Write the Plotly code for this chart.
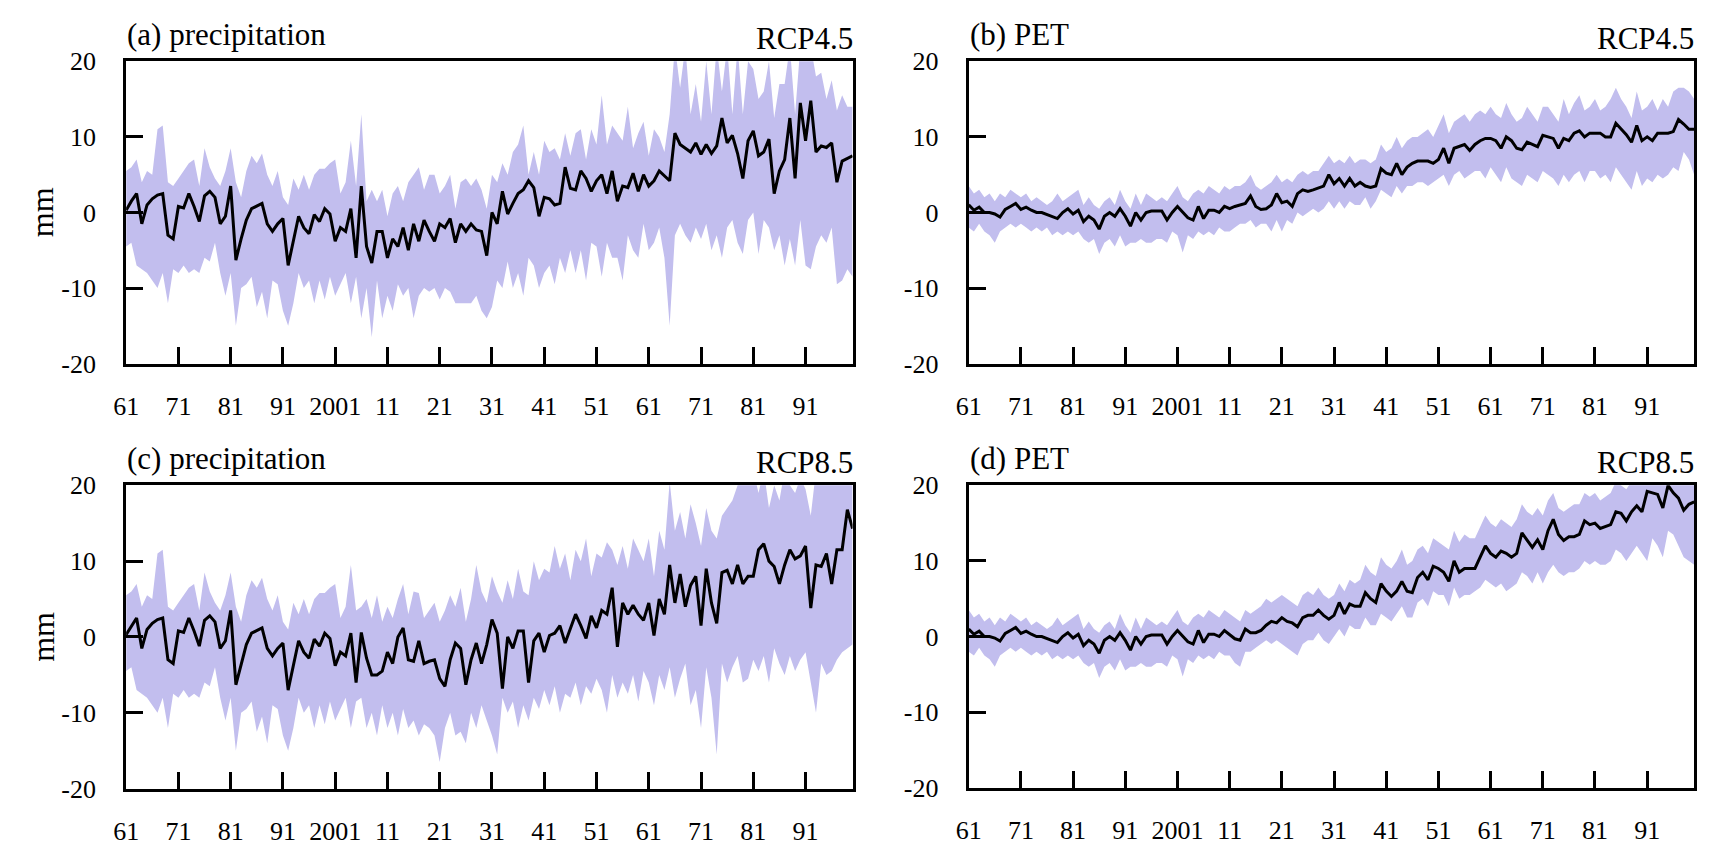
import plotly.graph_objects as go

# ---------------- data (anomalies, mm) ----------------
years = list(range(1961, 2101))
tick_years = [1961, 1971, 1981, 1991, 2001, 2011, 2021, 2031, 2041, 2051,
              2061, 2071, 2081, 2091]
tick_labels = ["61", "71", "81", "91", "2001", "11", "21", "31", "41", "51",
               "61", "71", "81", "91"]

# Precipitation, historical 1961-2005 (shared by both scenarios)
pr_hist_mean = [
    0.3, 1.5, 2.5, -1.5, 1.0, 1.8, 2.3, 2.5, -3.0, -3.5,
    0.8, 0.6, 2.5, 0.8, -1.2, 2.2, 2.8, 2.0, -1.5, -0.5,
    3.5, -6.3, -3.5, -1.0, 0.5, 0.8, 1.2, -1.5, -2.5, -1.5,
    -0.8, -7.0, -3.5, -0.5, -2.0, -2.8, -0.3, -1.2, 0.5, -0.2,
    -3.8, -2.0, -2.5, 0.5, -6.0,
]
pr_hist_hi = [
    5.5, 6.0, 7.0, 4.0, 5.5, 5.0, 11.0, 11.5, 4.0, 3.5,
    4.5, 5.5, 6.5, 7.0, 3.5, 8.5, 6.0, 4.5, 3.5, 5.5,
    8.5, 4.0, 2.0, 5.5, 7.5, 6.5, 7.8, 5.0, 3.5, 5.5,
    2.0, 1.0, 4.5, 3.0, 5.0, 3.0, 5.0, 5.8, 5.8, 6.5,
    7.0, 2.5, 4.0, 9.5, 3.5,
]
pr_hist_lo = [
    -4.5, -4.0, -7.0, -7.5, -8.0, -9.0, -10.0, -8.0, -12.0, -7.5,
    -8.0, -7.0, -8.0, -7.5, -8.0, -6.0, -6.5, -4.0, -8.0, -11.0,
    -8.0, -15.0, -10.0, -9.5, -8.5, -12.5, -10.5, -14.0, -9.0, -9.5,
    -13.0, -15.0, -12.0, -8.0, -10.0, -9.0, -12.0, -9.0, -11.5, -8.5,
    -11.0, -9.5, -8.0, -12.0, -8.5,
]

# Precipitation, RCP4.5 2006-2100
pr45_mean = [
    3.5, -4.5, -6.7, -2.5, -2.5,
    -6.0, -3.5, -4.5, -2.0, -5.0, -1.5, -3.8, -1.0, -2.5, -3.8,
    -1.5, -2.0, -0.8, -4.0, -1.5, -2.5, -1.5, -2.3, -2.5, -5.7,
    0.0, -1.5, 2.8, -0.2, 1.2, 2.5, 3.0, 4.2, 3.3, -0.5,
    2.0, 1.8, 1.0, 1.2, 6.0, 3.2, 3.0, 5.5, 4.5, 2.8,
    4.2, 5.0, 2.5, 5.5, 1.5, 3.5, 3.3, 5.2, 2.8, 5.0,
    3.5, 4.2, 5.5, 4.8, 4.2, 10.5, 9.0, 8.5, 8.0, 9.2,
    7.7, 9.0, 7.8, 8.8, 12.5, 9.2, 10.2, 7.8, 4.5, 9.5,
    10.8, 7.5, 8.0, 9.7, 2.5, 5.5, 7.0, 12.5, 4.5, 14.5,
    9.5, 14.8, 8.0, 8.8, 8.6, 9.2, 4.0, 6.8, 7.2, 7.5,
]
pr45_hi = [
    13.0, 1.5, 3.0, 1.5, 3.0,
    -0.5, 2.5, 3.5, 1.5, 4.0, 5.0, 6.0, 3.0, 5.0, 5.0,
    2.5, 3.5, 5.0, 0.5, 4.0, 4.5, 3.5, 4.5, 3.0, 0.5,
    5.0, 4.0, 6.5, 5.0, 8.0, 9.0, 11.5, 5.0, 8.0, 5.0,
    9.5, 8.0, 8.5, 7.0, 10.5, 7.5, 10.5, 11.0, 7.0, 11.0,
    9.0, 15.5, 9.0, 11.5, 10.5, 9.5, 14.0, 8.5, 10.5, 12.0,
    7.5, 11.0, 10.0, 8.0, 13.0, 22.0, 16.5, 22.0, 13.0, 17.0,
    12.0, 20.0, 13.0, 22.0, 16.0, 22.0, 13.0, 22.0, 13.0, 20.0,
    19.0, 15.0, 16.0, 20.0, 12.5, 17.0, 17.0, 22.0, 13.0, 22.0,
    22.0, 22.0, 18.0, 18.5, 15.0, 17.5, 13.5, 15.5, 14.0, 14.0,
]
pr45_lo = [
    -14.0, -10.0, -16.5, -9.0, -14.0,
    -11.0, -13.0, -9.5, -11.0, -10.0, -14.0, -11.0, -10.0, -10.5, -10.0,
    -11.5, -10.0, -10.5, -12.0, -12.0, -12.0, -12.0, -11.0, -13.0, -14.0,
    -12.5, -9.0, -10.0, -6.5, -10.0, -8.0, -11.0, -6.0, -7.0, -10.0,
    -8.0, -7.0, -9.5, -6.0, -8.0, -5.0, -8.0, -5.0, -9.0, -4.0,
    -4.5, -8.5, -4.0, -6.0, -6.0, -9.0, -3.0, -5.0, -6.0, -1.5,
    -5.0, -4.0, -2.0, -6.0, -15.0, -3.0, -1.5, -3.0, -4.0, -2.0,
    -3.5, -1.5, -5.0, -3.0, -6.0, -2.0, -1.0, -4.0, -5.5, -1.0,
    0.0, -5.5, -1.0, -2.0, -5.0, -3.0, -7.0, -3.5, -7.0, -1.0,
    -7.0, -7.5, -4.5, -3.0, -4.0, -2.0, -9.5, -9.0, -7.5, -8.5,
]

# Precipitation, RCP8.5 2006-2100
pr85_mean = [
    0.6, -2.8, -5.0, -5.0, -4.5,
    -2.0, -3.5, 0.0, 1.2, -3.0, -3.2, -0.5, -3.5, -3.2, -3.0,
    -5.5, -6.5, -3.0, -0.8, -1.5, -6.3, -3.0, -0.8, -3.5, -1.0,
    2.3, 0.5, -6.8, 0.0, -1.5, 0.8, 0.8, -6.0, -0.5, 0.5,
    -2.0, 0.2, 0.5, 1.5, -0.8, 1.2, 3.0, 1.5, -0.2, 2.8,
    1.2, 3.5, 3.0, 6.5, -1.3, 4.5, 3.0, 4.2, 3.0, 2.2,
    4.5, 0.2, 5.0, 3.0, 9.5, 4.5, 8.3, 4.0, 6.8, 8.0,
    1.5, 9.0, 4.5, 1.8, 8.5, 8.8, 7.0, 9.5, 7.0, 8.0,
    8.0, 11.5, 12.3, 10.0, 9.3, 7.0, 9.5, 11.5, 10.3, 10.7,
    12.0, 3.8, 9.5, 9.3, 11.0, 7.0, 11.5, 11.5, 16.8, 14.3,
]
pr85_hi = [
    4.0, 5.0, 2.5, 5.5, 2.0,
    4.0, 2.5, 5.0, 7.0, 3.0, 6.0, 5.8, 2.5, 3.5, 4.5,
    2.0, 3.5, 5.5, 4.0, 6.5, 2.0, 5.0, 9.5, 6.0, 4.5,
    8.0, 6.0, 4.5, 7.5, 5.0, 9.0, 6.0, 5.5, 10.0, 7.5,
    9.0, 8.5, 12.0, 9.0, 11.0, 7.5, 11.5, 10.0, 13.0, 8.0,
    11.0, 10.5, 12.5, 11.5, 9.5, 12.0, 9.0, 13.0, 11.5, 10.0,
    13.0, 8.0, 14.0, 11.5, 20.5, 14.0, 16.5, 13.0, 17.5, 15.0,
    12.0, 17.0, 14.0, 13.0, 16.0, 17.0, 18.0, 20.0, 22.0, 20.0,
    22.0, 19.0, 22.0, 17.0, 20.0, 18.0, 22.0, 20.0, 19.0, 21.0,
    19.5, 16.0, 22.0, 20.0, 22.0, 22.0, 22.0, 22.0, 22.0, 22.0,
]
pr85_lo = [
    -8.0, -12.0, -10.0, -13.0, -9.0,
    -12.0, -10.0, -13.0, -9.5, -12.0, -11.0, -13.0, -11.5, -12.0, -13.0,
    -16.5, -12.0, -10.0, -13.0, -12.5, -14.0, -10.0, -12.0, -9.0, -11.0,
    -13.0, -15.5, -8.0, -10.0, -8.5, -12.0, -9.0, -11.0, -8.0, -9.5,
    -7.0, -9.0, -6.5, -10.0, -7.5, -8.0, -6.0, -9.0, -6.5, -7.5,
    -5.5, -7.0, -10.0, -5.0, -8.0, -6.0, -7.5, -5.0, -8.5, -4.5,
    -6.0, -9.0, -5.0, -7.0, -4.0, -8.0, -5.5, -3.5, -9.0, -7.0,
    -12.0, -4.0, -8.0, -15.5, -3.5, -6.0, -4.0, -2.5, -6.0, -5.5,
    -3.0, -4.5, -2.5, -6.0, -1.5, -3.5, -5.0, -2.5, -4.5, -3.0,
    -2.0, -6.0, -10.0, -3.5, -5.0, -4.5, -3.0, -2.0, -1.5, -1.0,
]

# PET, historical 1961-2005 (shared by both scenarios)
pet_hist_mean = [
    1.0, 0.3, 0.7, 0.0, 0.0, -0.2, -0.6, 0.4, 0.8, 1.2,
    0.4, 0.7, 0.3, 0.0, 0.0, -0.3, -0.5, -0.8, 0.0, 0.5,
    -0.2, 0.3, -1.2, -0.5, -1.0, -2.2, -0.5, 0.0, -0.5, 0.5,
    -0.5, -1.8, 0.0, -1.0, 0.0, 0.2, 0.2, 0.2, -1.0, 0.0,
    0.8, 0.0, -0.7, -1.0, 0.8,
]
pet_hist_hi = [
    3.5, 2.5, 3.0, 2.0, 2.5, 1.5, 2.5, 2.0, 3.0, 2.5,
    2.0, 2.5, 1.5, 2.0, 1.5, 1.0, 1.5, 2.5, 1.5, 2.0,
    2.5, 3.0, 1.0, 2.0, 1.0, 0.5, 1.5, 2.0, 1.0, 3.0,
    1.5, 0.5, 2.5, 1.0, 2.5, 2.0, 1.5, 2.0, 1.5, 2.5,
    3.5, 2.0, 1.5, 2.5, 3.0,
]
pet_hist_lo = [
    -2.0, -2.5, -1.5, -2.5, -3.0, -4.0, -2.5, -2.0, -1.5, -2.0,
    -1.5, -2.0, -2.5, -2.0, -2.5, -2.0, -3.0, -2.5, -3.0, -2.5,
    -3.0, -2.5, -3.5, -4.0, -3.5, -5.5, -4.0, -3.5, -4.5, -3.0,
    -4.5, -4.0, -4.0, -3.5, -4.0, -4.0, -3.5, -3.5, -4.0, -2.5,
    -3.0, -5.3, -3.0, -3.5, -2.5,
]

# PET, RCP4.5 2006-2100
pet45_mean = [
    -0.8, 0.3, 0.3, 0.0, 0.8,
    0.5, 0.8, 1.0, 1.2, 2.2, 0.8, 0.4, 0.5, 1.0, 2.5,
    1.3, 1.5, 0.8, 2.5, 3.0, 2.8, 3.0, 3.2, 3.5, 5.0,
    3.8, 4.5, 3.5, 4.5, 3.5, 4.0, 3.5, 3.3, 3.5, 5.8,
    5.2, 5.0, 6.5, 5.0, 6.0, 6.5, 6.8, 6.8, 6.8, 6.5,
    7.0, 8.5, 6.5, 8.5, 8.8, 9.0, 8.2, 9.0, 9.5, 9.8,
    9.8, 9.5, 8.5, 10.0, 9.5, 8.5, 8.3, 9.3, 9.0, 8.7,
    10.2, 10.0, 9.8, 8.5, 9.8, 9.5, 10.5, 10.8, 10.0, 10.5,
    10.5, 10.5, 10.0, 10.0, 11.8, 11.0, 10.3, 9.3, 11.5, 9.5,
    10.0, 9.5, 10.5, 10.5, 10.5, 10.7, 12.3, 11.7, 11.0, 11.0,
]
pet45_hi = [
    2.5, 3.5, 3.0, 2.5, 3.5,
    3.0, 3.5, 3.5, 4.0, 5.0, 3.5, 3.0, 3.5, 4.0, 5.0,
    4.0, 4.5, 4.0, 5.0, 5.5, 5.0, 5.5, 5.5, 6.5, 7.5,
    6.5, 7.0, 6.5, 7.5, 6.5, 7.0, 7.0, 6.5, 7.0, 9.0,
    8.0, 8.5, 10.0, 8.5, 9.5, 10.0, 10.0, 10.5, 11.0, 10.0,
    11.5, 13.0, 10.5, 12.0, 12.5, 13.0, 12.0, 13.0, 13.5, 13.0,
    14.0, 13.0, 12.5, 14.5, 13.0, 12.0, 12.5, 14.0, 13.0, 12.0,
    14.0, 14.0, 13.0, 12.0, 15.0, 13.0, 14.5, 15.5, 13.5, 14.0,
    15.0, 13.5, 14.0, 15.0, 16.5, 15.0, 14.0, 12.5, 16.0, 13.5,
    14.0, 15.0, 13.5, 15.0, 14.0, 16.0, 16.5, 16.5, 16.0, 15.0,
]
pet45_lo = [
    -3.0, -2.5, -3.0, -2.0, -2.5,
    -2.5, -2.0, -1.5, -1.5, -1.0, -2.0, -1.5, -1.5, -2.5, -1.0,
    -2.5, -1.0, -1.5, 0.0, -0.5, 0.0, 0.5, 0.0, 0.5, 1.5,
    0.5, 1.5, 0.5, 1.5, 1.0, 1.0, 2.0, 0.5, 1.5, 3.0,
    2.5, 2.0, 3.5, 2.5, 3.5, 3.5, 4.0, 4.0, 3.5, 4.0,
    4.5, 5.0, 3.5, 5.0, 5.5, 4.5, 5.0, 5.5, 5.5, 4.5,
    6.0, 5.0, 4.0, 6.0, 4.5, 4.0, 3.5, 5.0, 4.5, 4.0,
    5.5, 5.0, 4.5, 3.5, 5.0, 4.0, 5.0, 5.5, 4.0, 5.5,
    5.5, 4.5, 5.0, 4.0, 6.0, 5.0, 4.0, 3.0, 5.5, 3.5,
    4.5, 4.0, 5.0, 4.5, 5.0, 6.0, 5.5, 8.0, 7.0, 5.0,
]

# PET, RCP8.5 2006-2100
pet85_mean = [
    -0.8, 0.3, 0.3, 0.0, 0.8,
    0.3, -0.3, -0.5, 1.0, 0.5, 0.5, 0.8, 1.5, 2.0, 1.8,
    2.5, 2.0, 1.8, 1.3, 2.5, 2.8, 2.8, 3.5, 2.8, 2.3,
    2.8, 4.5, 3.0, 4.3, 4.0, 4.0, 5.8, 5.0, 4.5, 7.0,
    6.0, 5.3, 6.0, 7.3, 6.0, 5.8, 7.8, 8.5, 7.5, 9.3,
    9.0, 8.5, 7.3, 10.0, 8.5, 9.0, 9.0, 9.0, 10.5, 12.0,
    11.0, 10.5, 11.3, 11.0, 10.5, 11.0, 13.7, 12.7, 11.8, 12.8,
    11.5, 14.0, 15.5, 13.5, 12.7, 13.2, 13.2, 13.5, 15.3, 14.8,
    15.0, 14.3, 14.5, 14.8, 16.5, 16.3, 15.3, 16.5, 17.3, 16.5,
    19.2, 19.0, 18.8, 17.0, 20.0, 19.0, 18.3, 16.7, 17.5, 17.8,
]
pet85_hi = [
    2.5, 3.5, 3.0, 2.5, 3.5,
    3.0, 2.5, 2.0, 3.5, 3.0, 3.5, 4.0, 5.0, 4.5, 5.0,
    5.5, 5.0, 4.5, 4.0, 5.5, 6.0, 5.5, 6.5, 5.5, 5.0,
    5.5, 7.0, 6.0, 7.5, 7.0, 7.5, 9.5, 8.5, 8.0, 10.5,
    9.5, 9.0, 10.0, 11.5, 9.5, 10.0, 11.5, 12.0, 11.0, 13.0,
    12.5, 12.0, 11.5, 14.0, 12.5, 13.5, 13.0, 13.0, 14.5, 16.0,
    15.0, 14.5, 15.5, 15.0, 14.5, 15.5, 17.5, 16.5, 16.0, 17.0,
    16.0, 18.0, 19.0, 17.0, 16.5, 17.0, 17.5, 17.5, 19.0, 18.5,
    19.0, 18.0, 18.5, 19.0, 20.5, 20.0, 19.5, 20.5, 21.0, 20.5,
    22.0, 22.0, 22.0, 21.0, 22.0, 22.0, 22.0, 21.0, 21.0, 21.0,
]
pet85_lo = [
    -3.0, -2.5, -3.0, -2.0, -2.5,
    -2.5, -3.5, -4.0, -2.0, -2.0, -1.5, -1.0, -0.5, -1.0, -0.5,
    -1.0, -1.5, -2.0, -2.5, -1.0, -0.5, -0.5, 0.5, -0.5, -1.0,
    0.0, 1.0, 0.0, 1.5, 1.0, 1.0, 2.5, 1.5, 1.5, 3.0,
    2.5, 2.0, 3.0, 4.0, 2.5, 2.5, 4.5, 5.0, 4.0, 6.0,
    5.5, 5.5, 4.0, 6.5, 5.0, 5.5, 5.5, 6.0, 6.5, 7.5,
    7.0, 6.5, 7.0, 6.0, 6.5, 7.0, 8.5, 8.0, 7.0, 8.5,
    7.0, 8.5, 9.5, 8.5, 8.0, 8.5, 8.5, 9.0, 10.0, 9.5,
    10.0, 9.5, 9.5, 10.0, 11.5, 11.0, 10.0, 11.0, 12.0, 11.0,
    10.0, 13.0, 12.0, 10.5, 14.0, 13.5, 12.0, 10.5, 10.0, 9.5,
]

# ---------------- figure ----------------
W, H = 1714, 850
SERIF = "Liberation Serif"
BAND = "rgb(194,190,238)"


def px_x(v):
    return v / W


def px_y(v):
    return 1 - v / H


# plot-area rectangles in pixels: (left, right, top, bottom)
boxes = {
    1: (114, 846, 49, 362),
    2: (963, 1694, 49, 362),
    3: (114, 846, 488, 802),
    4: (963, 1694, 488, 801),
}

panels = [
    (1, "(a) precipitation", "RCP4.5", pr_hist_mean + pr45_mean, pr_hist_hi + pr45_hi, pr_hist_lo + pr45_lo),
    (2, "(b) PET", "RCP4.5", pet_hist_mean + pet45_mean, pet_hist_hi + pet45_hi, pet_hist_lo + pet45_lo),
    (3, "(c) precipitation", "RCP8.5", pr_hist_mean + pr85_mean, pr_hist_hi + pr85_hi, pr_hist_lo + pr85_lo),
    (4, "(d) PET", "RCP8.5", pet_hist_mean + pet85_mean, pet_hist_hi + pet85_hi, pet_hist_lo + pet85_lo),
]

fig = go.Figure()
annotations = []

for idx, title, scen, mean, hi, lo in panels:
    for arr in (mean, hi, lo):
        if len(arr) != len(years):
            raise ValueError(f"{title}: {len(arr)} values")
    sfx = "" if idx == 1 else str(idx)
    xa, ya = "x" + sfx, "y" + sfx
    fig.add_trace(go.Scatter(x=years, y=hi, xaxis=xa, yaxis=ya, mode="lines",
                             line=dict(width=0, color=BAND), showlegend=False,
                             hoverinfo="skip"))
    fig.add_trace(go.Scatter(x=years, y=lo, xaxis=xa, yaxis=ya, mode="lines",
                             line=dict(width=0, color=BAND), fill="tonexty",
                             fillcolor=BAND, showlegend=False, hoverinfo="skip"))
    fig.add_trace(go.Scatter(x=years, y=mean, xaxis=xa, yaxis=ya, mode="lines",
                             line=dict(width=3, color="black"), showlegend=False))

    l, r, t, b = boxes[idx]
    common = dict(showline=True, linewidth=3, linecolor="black", mirror=True,
                  ticks="inside", ticklen=17, tickwidth=3, tickcolor="black",
                  showgrid=False, zeroline=False,
                  tickfont=dict(family=SERIF, size=26, color="black"))
    fig.update_layout({
        "xaxis" + sfx: dict(common, domain=[px_x(l), px_x(r)], anchor=ya,
                            range=[1961, 2100], tickmode="array",
                            tickvals=tick_years, ticktext=tick_labels,
                            ticklabelstandoff=17),
        "yaxis" + sfx: dict(common, domain=[px_y(b), px_y(t)], anchor=xa,
                            range=[-20, 20], tickmode="array",
                            tickvals=[-20, -10, 0, 10, 20],
                            ticktext=["-20", "-10", "0", "10", "20"],
                            ticklabelstandoff=22),
    })

    annotations.append(dict(text=title, xref="paper", yref="paper",
                            x=px_x(l - 1), y=px_y(t - 28), xanchor="left",
                            yanchor="middle", showarrow=False,
                            font=dict(family=SERIF, size=31, color="black")))
    annotations.append(dict(text=scen, xref="paper", yref="paper",
                            x=px_x(r + 2), y=px_y(t - 24), xanchor="right",
                            yanchor="middle", showarrow=False,
                            font=dict(family=SERIF, size=31, color="black")))
    if idx in (1, 3):
        annotations.append(dict(text="mm", xref="paper", yref="paper",
                                x=px_x(30), y=px_y((t + b) / 2),
                                xanchor="center", yanchor="middle",
                                textangle=-90, showarrow=False,
                                font=dict(family=SERIF, size=32, color="black")))

fig.update_layout(width=W, height=H, margin=dict(l=0, r=0, t=0, b=0),
                  paper_bgcolor="white", plot_bgcolor="white",
                  annotations=annotations, showlegend=False)

fig.write_html("out.html")
